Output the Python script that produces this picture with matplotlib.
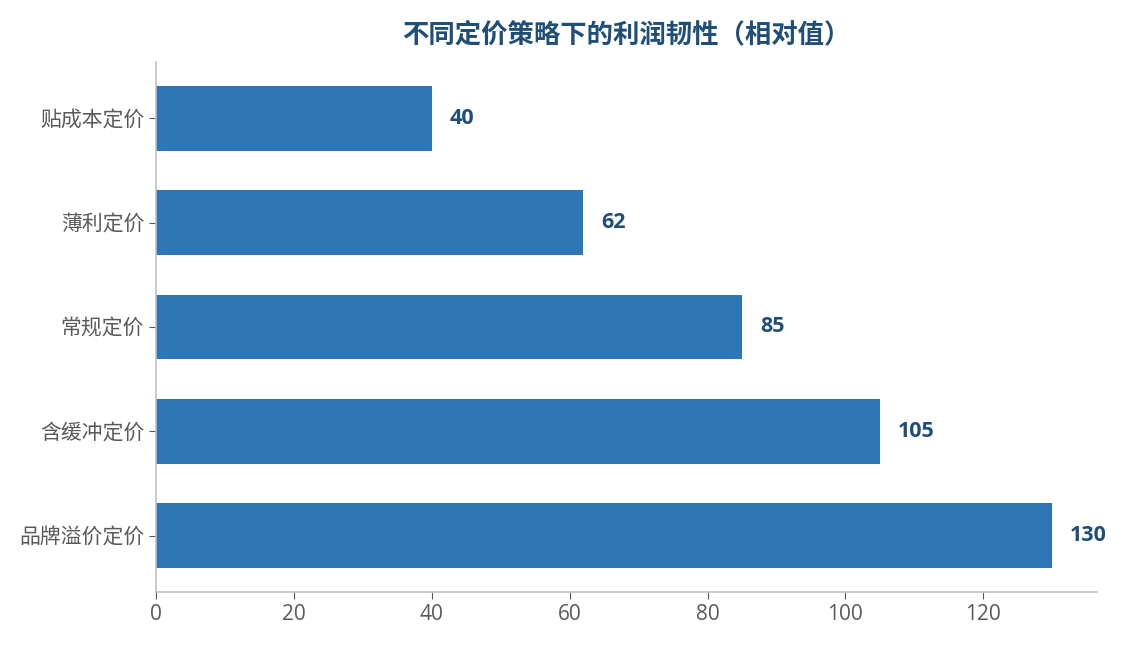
import matplotlib
matplotlib.use("Agg")
import matplotlib.pyplot as plt

plt.rcParams['font.family'] = ['Open Sans', 'Noto Sans CJK SC', 'DejaVu Sans']

categories = ['贴成本定价', '薄利定价', '常规定价', '含缓冲定价', '品牌溢价定价']
values = [40, 62, 85, 105, 130]
title = '不同定价策略下的利润韧性（相对值）'

bar_color = '#2E75B6'
dark_blue = '#1F4E79'
gray_text = '#595959'

fig = plt.figure(figsize=(11.23, 6.45), dpi=100)
ax = fig.add_axes([0.1389, 0.0822, 0.8380, 0.8217])

ypos = list(range(len(categories)))[::-1]
ax.barh(ypos, values, height=0.62, color=bar_color)
ax.set_yticks(ypos)
ax.set_yticklabels(categories)
ax.set_xlim(0, max(values) * 1.05)
ax.set_xticks([0, 20, 40, 60, 80, 100, 120])

for y, v in zip(ypos, values):
    ax.text(v + max(values) * 0.02, y, str(v), va='center', ha='left',
            fontsize=15.5, fontweight='bold', color=dark_blue)

for s in ['top', 'right']:
    ax.spines[s].set_visible(False)
for s in ['left', 'bottom']:
    ax.spines[s].set_color('#C0C0C0')
    ax.spines[s].set_linewidth(1.2)

ax.tick_params(axis='both', colors='#595959', length=5)
ax.tick_params(axis='x', labelsize=15)
ax.tick_params(axis='y', labelsize=15)
for lab in ax.get_xticklabels() + ax.get_yticklabels():
    lab.set_color(gray_text)

ax.set_title(title, fontsize=19, fontweight='bold', color=dark_blue, pad=14)

fig.savefig('out.png', dpi=100)
